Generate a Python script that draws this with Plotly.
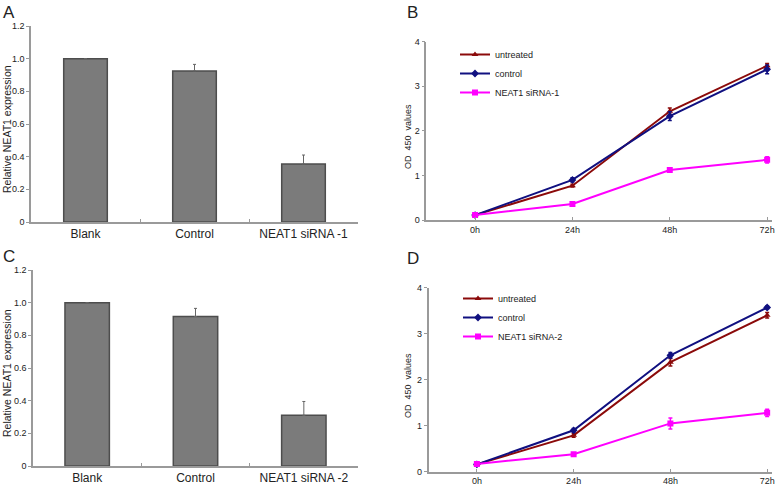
import plotly.graph_objects as go

W, H = 778, 486

# ---------------- data ----------------
bar_cats_A = ["Blank", "Control", "NEAT1 siRNA -1"]
bar_vals_A = [1.0, 0.925, 0.355]
bar_err_A = [0.0, 0.04, 0.055]

bar_cats_C = ["Blank", "Control", "NEAT1 siRNA -2"]
bar_vals_C = [1.0, 0.915, 0.31]
bar_err_C = [0.0, 0.05, 0.085]

time_cats = ["0h", "24h", "48h", "72h"]

untreated_B = [0.11, 0.77, 2.44, 3.46]
untreated_B_err = [0.02, 0.03, 0.07, 0.05]
control_B = [0.11, 0.90, 2.33, 3.38]
control_B_err = [0.02, 0.05, 0.10, 0.10]
sirna1_B = [0.11, 0.36, 1.12, 1.35]
sirna1_B_err = [0.02, 0.03, 0.05, 0.07]

untreated_D = [0.16, 0.79, 2.38, 3.40]
untreated_D_err = [0.03, 0.04, 0.08, 0.06]
control_D = [0.16, 0.90, 2.53, 3.57]
control_D_err = [0.02, 0.04, 0.06, 0.03]
sirna2_D = [0.17, 0.38, 1.05, 1.28]
sirna2_D_err = [0.03, 0.03, 0.12, 0.08]

bar_yticks = [0, 0.2, 0.4, 0.6, 0.8, 1.0, 1.2]
bar_yticktext = ["0", "0.2", "0.4", "0.6", "0.8", "1.0", "1.2"]
line_yticks = [0, 1, 2, 3, 4]

# ---------------- styles ----------------
FONT = "Liberation Sans, Arial, sans-serif"
TXT = "#222222"
AX = "#9a9a9a"
C_UNT = "#8B0a0a"
C_CTL = "#101080"
C_SI = "#FF00FF"
BAR_FILL = "#7b7b7b"
BAR_LINE = "#4d4d4d"


def px_x(p):
    return p / W


def px_y(p):
    return 1 - p / H


fig = go.Figure()

# ---- bar panels ----
fig.add_trace(go.Bar(x=bar_cats_A, y=bar_vals_A, width=0.4,
                     marker=dict(color=BAR_FILL, line=dict(color=BAR_LINE, width=1.5)),
                     error_y=dict(type="data", symmetric=False, array=bar_err_A,
                                  arrayminus=[0, 0, 0], color="#666666", thickness=1, width=1.5),
                     xaxis="x", yaxis="y", showlegend=False))
fig.add_trace(go.Bar(x=bar_cats_C, y=bar_vals_C, width=0.41,
                     marker=dict(color=BAR_FILL, line=dict(color=BAR_LINE, width=1.5)),
                     error_y=dict(type="data", symmetric=False, array=bar_err_C,
                                  arrayminus=[0, 0, 0], color="#666666", thickness=1, width=1.5),
                     xaxis="x3", yaxis="y3", showlegend=False))


# ---- line panels ----
def line(x, y, err, name, color, symbol, xa, ya, leg):
    return go.Scatter(x=x, y=y, name=name, mode="lines+markers",
                      line=dict(color=color, width=2),
                      marker=dict(symbol=symbol, size=6, color=color),
                      error_y=dict(type="data", array=err, color=color, thickness=1.5, width=2),
                      xaxis=xa, yaxis=ya, legend=leg)


fig.add_trace(line(time_cats, untreated_B, untreated_B_err, "untreated", C_UNT, "triangle-up", "x2", "y2", "legend"))
fig.add_trace(line(time_cats, control_B, control_B_err, "control", C_CTL, "diamond", "x2", "y2", "legend"))
fig.add_trace(line(time_cats, sirna1_B, sirna1_B_err, "NEAT1 siRNA-1", C_SI, "square", "x2", "y2", "legend"))

fig.add_trace(line(time_cats, untreated_D, untreated_D_err, "untreated", C_UNT, "triangle-up", "x4", "y4", "legend2"))
fig.add_trace(line(time_cats, control_D, control_D_err, "control", C_CTL, "diamond", "x4", "y4", "legend2"))
fig.add_trace(line(time_cats, sirna2_D, sirna2_D_err, "NEAT1 siRNA-2", C_SI, "square", "x4", "y4", "legend2"))

common_x = dict(showline=True, linecolor=AX, linewidth=1.5, showgrid=False, zeroline=False,
                automargin=False, ticks="inside", ticklen=3, tickcolor=AX)
common_y = dict(showline=True, linecolor=AX, linewidth=1.5, showgrid=False, zeroline=False,
                automargin=False, ticks="outside", ticklen=3, tickcolor=AX,
                tickfont=dict(family=FONT, size=9, color=TXT))

fig.update_layout(
    width=W, height=H, margin=dict(l=0, r=0, t=0, b=0),
    paper_bgcolor="white", plot_bgcolor="white",
    font=dict(family=FONT, color=TXT),
    xaxis=dict(domain=[px_x(31), px_x(358)], anchor="y", range=[-0.5, 2.5],
               tickson="boundaries", tickfont=dict(family=FONT, size=12, color=TXT), **common_x),
    yaxis=dict(domain=[px_y(222), px_y(26)], anchor="x", range=[0, 1.2],
               tickvals=bar_yticks, ticktext=bar_yticktext, **common_y),
    xaxis3=dict(domain=[px_x(33), px_x(358)], anchor="y3", range=[-0.5, 2.5],
                tickson="boundaries", tickfont=dict(family=FONT, size=12, color=TXT), **common_x),
    yaxis3=dict(domain=[px_y(466), px_y(270)], anchor="x3", range=[0, 1.2],
                tickvals=bar_yticks, ticktext=bar_yticktext, **common_y),
    xaxis2=dict(domain=[px_x(426.4), px_x(772)], anchor="y2", range=[-0.5, 3.05],
                tickfont=dict(family=FONT, size=9, color=TXT), **common_x),
    yaxis2=dict(domain=[px_y(220), px_y(41.7)], anchor="x2", range=[0, 4],
                tickvals=line_yticks, **common_y),
    xaxis4=dict(domain=[px_x(428.5), px_x(772)], anchor="y4", range=[-0.5, 3.05],
                tickfont=dict(family=FONT, size=9, color=TXT), **common_x),
    yaxis4=dict(domain=[px_y(471.7), px_y(287.7)], anchor="x4", range=[0, 4],
                tickvals=line_yticks, **common_y),
    legend=dict(x=px_x(455), y=px_y(40), xanchor="left", yanchor="top",
                bgcolor="rgba(0,0,0,0)", font=dict(family=FONT, size=9, color=TXT),
                itemwidth=30, tracegroupgap=0),
    legend2=dict(x=px_x(458), y=px_y(284), xanchor="left", yanchor="top",
                 bgcolor="rgba(0,0,0,0)", font=dict(family=FONT, size=9, color=TXT),
                 itemwidth=30, tracegroupgap=0),
)

annotations = [
    dict(text="A", x=px_x(1), y=px_y(1), xanchor="left", yanchor="top", font=dict(size=17)),
    dict(text="B", x=px_x(405), y=px_y(1), xanchor="left", yanchor="top", font=dict(size=17)),
    dict(text="C", x=px_x(1), y=px_y(245), xanchor="left", yanchor="top", font=dict(size=17)),
    dict(text="D", x=px_x(405), y=px_y(247), xanchor="left", yanchor="top", font=dict(size=17)),
    dict(text="Relative NEAT1 expression", x=px_x(7), y=px_y(129), textangle=-90,
         xanchor="center", yanchor="middle", font=dict(size=10.5)),
    dict(text="Relative NEAT1 expression", x=px_x(7), y=px_y(373), textangle=-90,
         xanchor="center", yanchor="middle", font=dict(size=10.5)),
    dict(text="OD  450  values", x=px_x(408), y=px_y(137), textangle=-90,
         xanchor="center", yanchor="middle", font=dict(size=9)),
    dict(text="OD  450  values", x=px_x(408), y=px_y(386), textangle=-90,
         xanchor="center", yanchor="middle", font=dict(size=9)),
]
for a in annotations:
    a.update(xref="paper", yref="paper", showarrow=False)
    a["font"] = dict(family=FONT, color=TXT, **a["font"])
fig.update_layout(annotations=annotations)

fig.write_html("out.html", config={"displayModeBar": False},
               post_script="document.body.style.margin='0px';")
